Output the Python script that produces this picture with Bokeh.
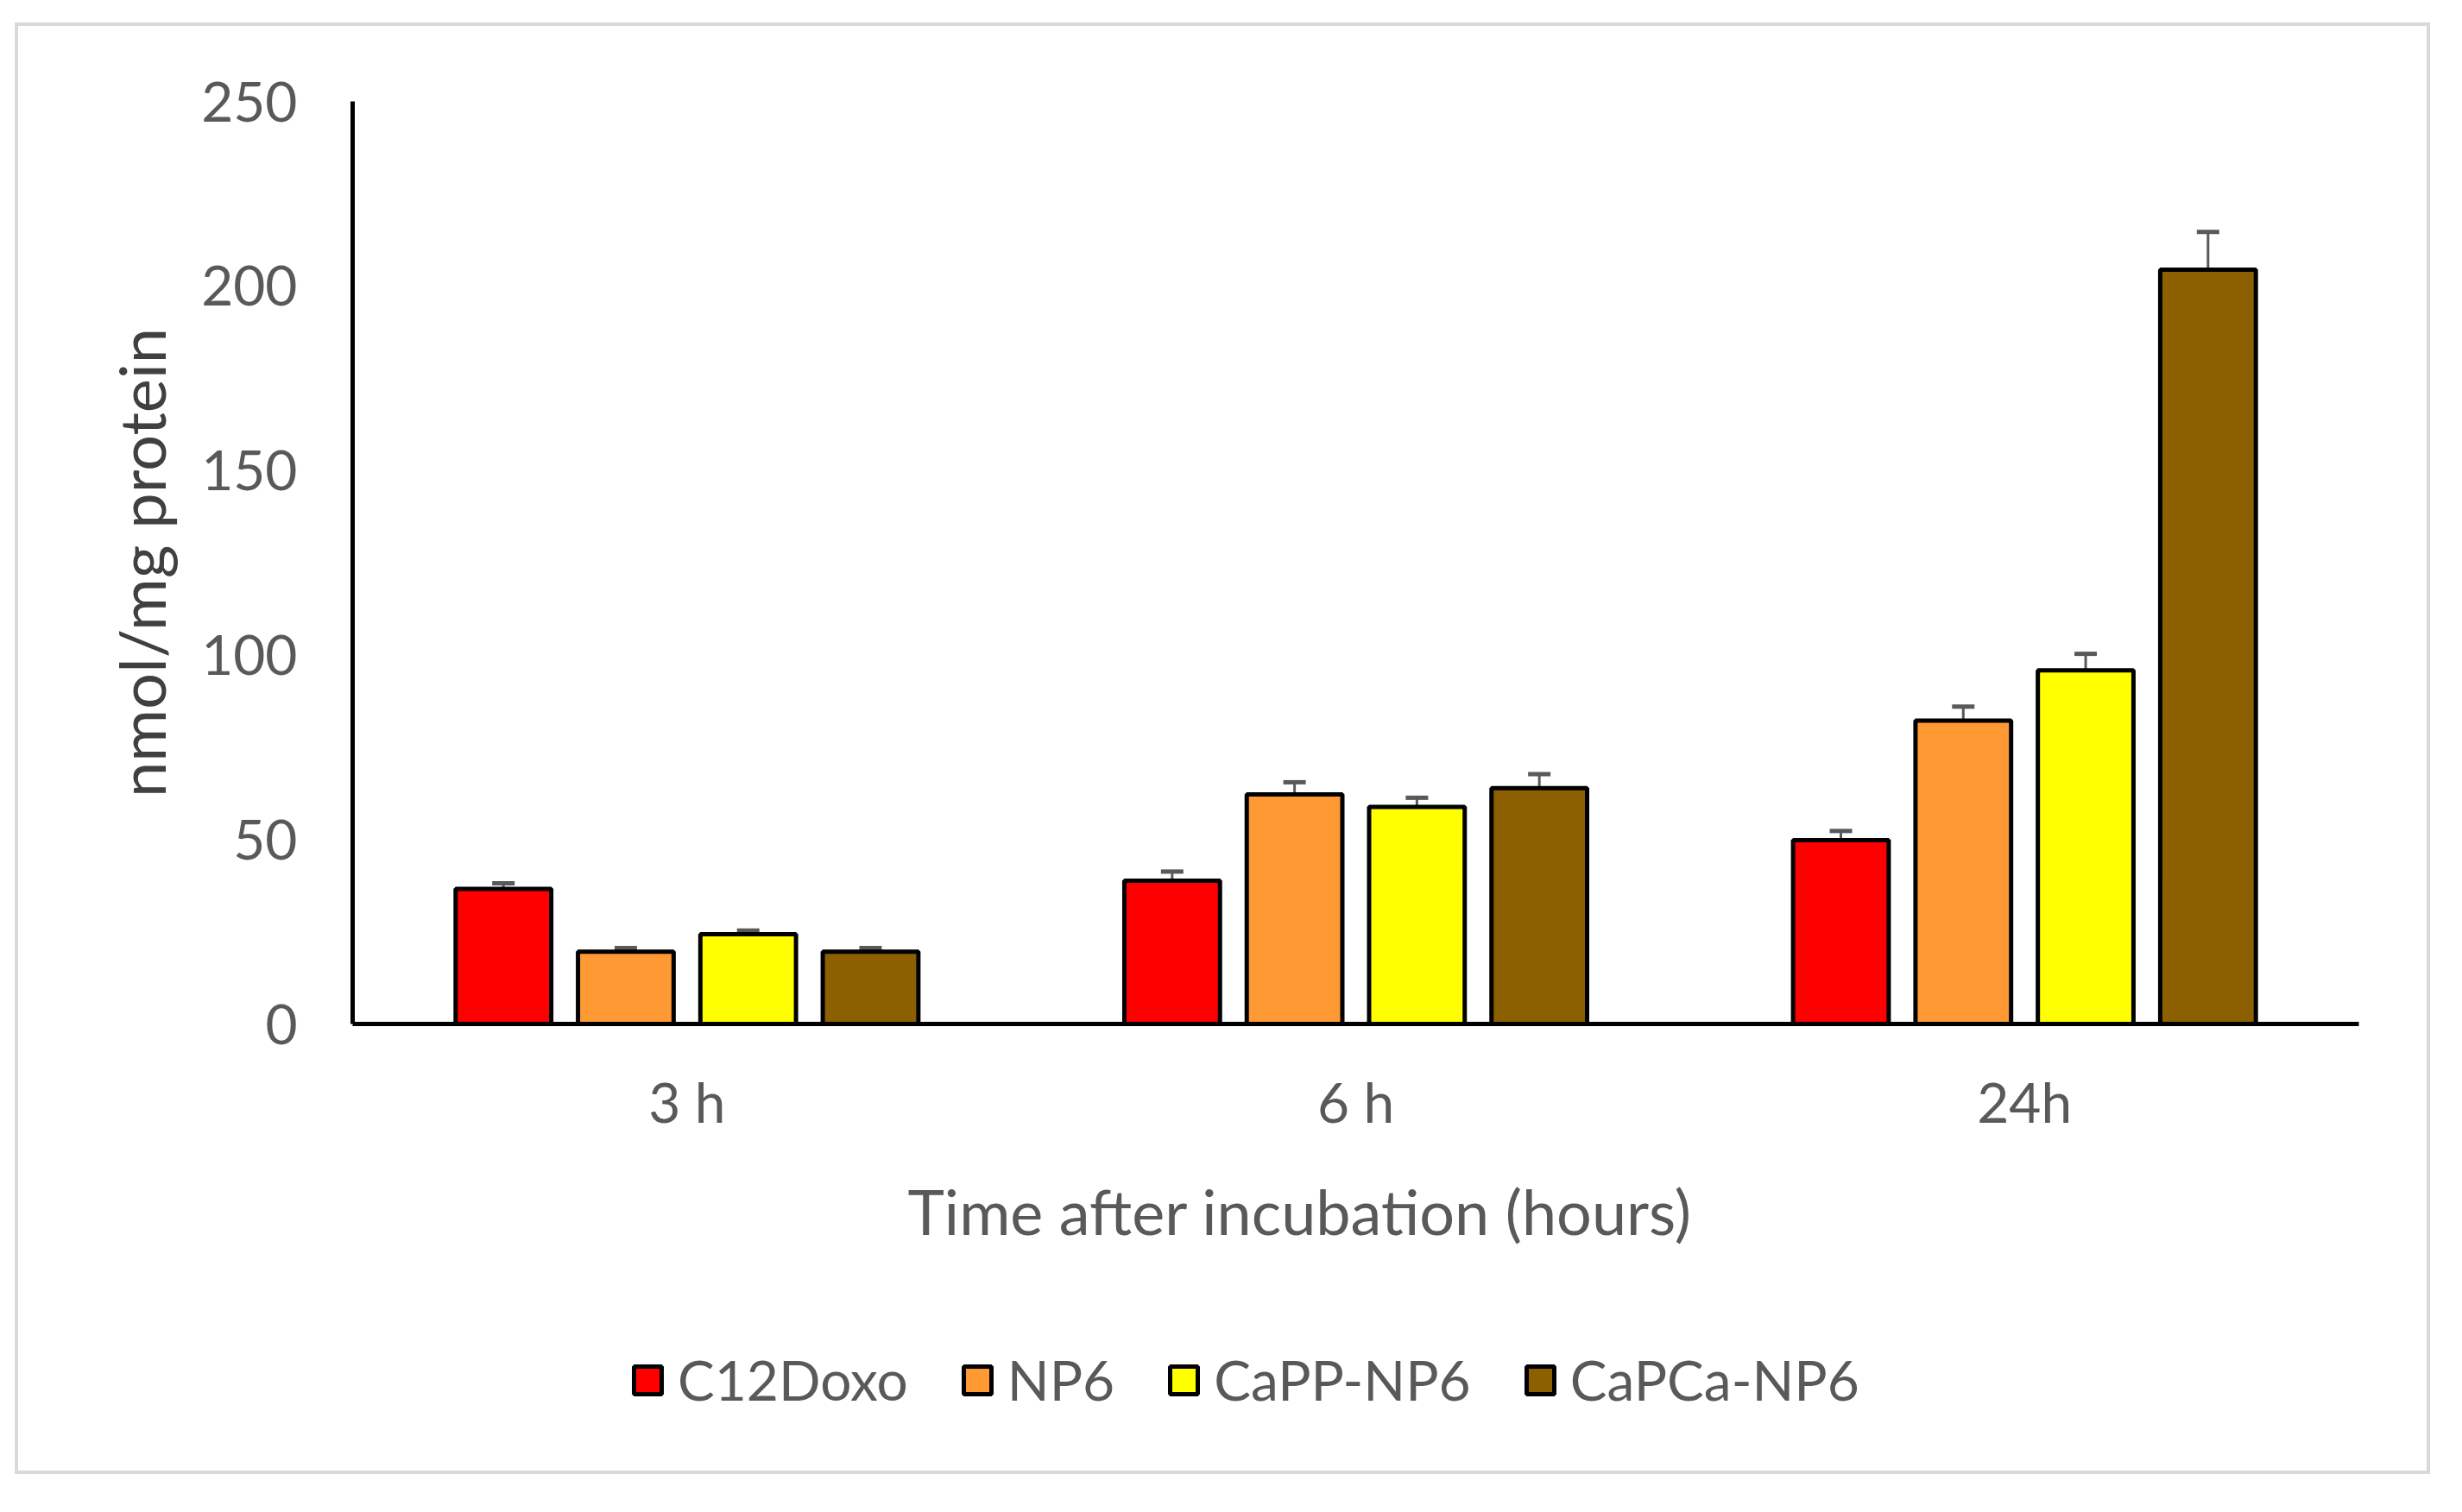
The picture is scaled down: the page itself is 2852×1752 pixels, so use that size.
from bokeh.plotting import figure
from bokeh.layouts import column
from bokeh.models import (FactorRange, Range1d, ColumnDataSource, Whisker, TeeHead,
                          Legend, LegendItem, FixedTicker)
from bokeh.transform import dodge
from bokeh.embed import file_html
from bokeh.resources import INLINE

# ---- data ----
times = ["3 h", "6 h", "24h"]
series = ["C12Doxo", "NP6", "CaPP-NP6", "CaPCa-NP6"]
c12doxo = [36.6, 38.8, 49.8]
np6 = [19.6, 62.2, 82.2]
capp_np6 = [24.3, 58.8, 95.8]
capca_np6 = [19.6, 63.9, 204.4]
c12doxo_err = [1.5, 2.5, 2.5]
np6_err = [1.0, 3.3, 3.8]
capp_np6_err = [1.0, 2.5, 4.5]
capca_np6_err = [1.0, 3.8, 10.2]
y_ticks = [0, 50, 100, 150, 200, 250]

values = [c12doxo, np6, capp_np6, capca_np6]
errors = [c12doxo_err, np6_err, capp_np6_err, capca_np6_err]
colors = ["#FF0000", "#FF9933", "#FFFF00", "#8C5F00"]
offsets = [-0.2745, -0.0915, 0.0915, 0.2745]

FONT = "Lato"
GRAY = "#595959"
BORDER = "4px solid #D9D9D9"

W = 2798
H_TOP, H_LEG = 1499, 183

# ---- main chart ----
p = figure(width=W, height=H_TOP, x_range=FactorRange(factors=times),
           y_range=Range1d(0, 250), output_backend="svg", toolbar_location=None,
           min_border_left=387, min_border_right=87, min_border_top=87,
           min_border_bottom=343)
p.margin = (26, 0, 0, 17)
p.styles = {"border-top": BORDER, "border-left": BORDER, "border-right": BORDER,
            "box-sizing": "border-box"}
p.outline_line_color = None
p.xgrid.grid_line_color = None
p.ygrid.grid_line_color = None
p.background_fill_color = "white"
p.border_fill_color = "white"

p.yaxis.ticker = FixedTicker(ticks=y_ticks)
for ax in (p.xaxis[0], p.yaxis[0]):
    ax.axis_line_color = "black"
    ax.axis_line_width = 5
    ax.major_tick_line_color = None
    ax.minor_tick_line_color = None
    ax.major_label_text_font = FONT
    ax.major_label_text_font_size = "64px"
    ax.major_label_text_color = GRAY
    ax.axis_label_text_font = FONT
    ax.axis_label_text_font_style = "normal"
p.yaxis.major_label_standoff = 58
p.yaxis.axis_label = "nmol/mg protein"
p.yaxis.axis_label_text_font_size = "74px"
p.yaxis.axis_label_text_color = "#404040"
p.yaxis.axis_label_standoff = 22
p.xaxis.major_label_standoff = 45
p.xaxis.axis_label = "Time after incubation (hours)" + "\u00a0" * 7
p.xaxis.axis_label_text_font_size = "72px"
p.xaxis.axis_label_text_color = GRAY
p.xaxis.axis_label_standoff = 42

sources = []
for name, vals, errs, col, off in zip(series, values, errors, colors, offsets):
    src = ColumnDataSource(dict(t=times, v=vals,
                                lo=[a - b for a, b in zip(vals, errs)],
                                hi=[a + b for a, b in zip(vals, errs)]))
    sources.append(src)
    p.vbar(x=dodge("t", off, range=p.x_range), top="v", width=0.143, source=src,
           fill_color=col, line_color="black", line_width=5)
    p.add_layout(Whisker(base=dodge("t", off, range=p.x_range), lower="lo", upper="hi",
                         source=src, line_color=GRAY, line_width=3,
                         upper_head=TeeHead(size=26, line_color=GRAY, line_width=5),
                         lower_head=TeeHead(size=26, line_color=GRAY, line_width=5)))

# ---- legend strip (its own bars lie outside its visible range) ----
q = figure(width=W, height=H_LEG, x_range=FactorRange(factors=times),
           y_range=Range1d(1000, 2000), output_backend="svg", toolbar_location=None,
           min_border_left=0, min_border_right=0, min_border_top=0, min_border_bottom=0)
q.margin = (0, 0, 0, 17)
q.styles = {"border-bottom": BORDER, "border-left": BORDER, "border-right": BORDER,
            "box-sizing": "border-box"}
q.axis.visible = False
q.grid.visible = False
q.outline_line_color = None
q.border_fill_color = "white"
items = []
for name, col, src, off in zip(series, colors, sources, offsets):
    r = q.vbar(x=dodge("t", off, range=q.x_range), top="v", width=0.143, source=src,
               fill_color=col, line_color="black", line_width=5)
    items.append(LegendItem(label=name, renderers=[r]))
legend = Legend(items=items, orientation="horizontal", location=(322, 71),
                glyph_width=40, glyph_height=40, label_standoff=15, spacing=60,
                padding=0, margin=0, border_line_color=None, background_fill_alpha=0,
                label_text_font=FONT, label_text_font_size="64px",
                label_text_color=GRAY)
q.add_layout(legend, "center")

layout = column(p, q, spacing=0)
open("out.html", "w").write(file_html(layout, INLINE))
